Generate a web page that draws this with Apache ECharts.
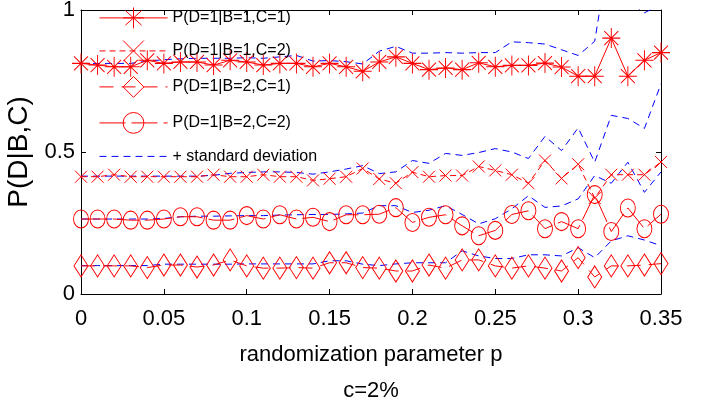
<!DOCTYPE html>
<html><head><meta charset="utf-8">
<script src="https://cdn.jsdelivr.net/npm/echarts@6/dist/echarts.min.js"></script>
<style>html,body{margin:0;padding:0;background:#fff}#c{width:702px;height:406px}</style>
</head><body><div id="c"></div>
<script>
const p = [0,0.01,0.02,0.03,0.04,0.05,0.06,0.07,0.08,0.09,0.10,0.11,0.12,0.13,0.14,0.15,0.16,0.17,0.18,0.19,0.20,0.21,0.22,0.23,0.24,0.25,0.26,0.27,0.28,0.29,0.30,0.31,0.32,0.33,0.34,0.35];
const xTicks = ['0','0.05','0.1','0.15','0.2','0.25','0.3','0.35'];
const yTicks = ['0','0.5','1'];
const names = ['P(D=1|B=1,C=1)','P(D=1|B=1,C=2)','P(D=1|B=2,C=1)','P(D=1|B=2,C=2)','+ standard deviation'];
// P(D=1|B=1,C=1)
const s11 = [0.812,0.806,0.800,0.800,0.823,0.812,0.817,0.817,0.806,0.823,0.817,0.806,0.812,0.812,0.800,0.812,0.800,0.784,0.817,0.835,0.812,0.790,0.796,0.790,0.814,0.800,0.805,0.805,0.813,0.799,0.767,0.767,0.901,0.767,0.823,0.850];
const up11 = [0.812,0.812,0.812,0.812,0.820,0.825,0.828,0.830,0.830,0.830,0.832,0.830,0.835,0.840,0.820,0.822,0.818,0.810,0.855,0.872,0.848,0.848,0.850,0.848,0.850,0.850,0.888,0.885,0.880,0.860,0.840,0.890,1.250,1.030,0.990,1.020];
// P(D=1|B=1,C=2)
const s12 = [0.413,0.413,0.420,0.413,0.413,0.413,0.413,0.413,0.420,0.413,0.413,0.420,0.413,0.413,0.400,0.406,0.413,0.442,0.405,0.390,0.429,0.413,0.417,0.417,0.449,0.435,0.420,0.390,0.470,0.407,0.457,0.338,0.420,0.420,0.420,0.465];
const up12 = [0.415,0.415,0.415,0.415,0.415,0.415,0.415,0.415,0.418,0.425,0.428,0.430,0.430,0.428,0.422,0.430,0.440,0.452,0.424,0.430,0.470,0.460,0.495,0.488,0.498,0.512,0.500,0.477,0.555,0.505,0.585,0.464,0.629,0.618,0.583,0.740];
// P(D=1|B=2,C=1)
const s21 = [0.099,0.099,0.099,0.099,0.093,0.102,0.102,0.095,0.102,0.120,0.099,0.091,0.091,0.093,0.091,0.110,0.110,0.093,0.091,0.081,0.081,0.102,0.091,0.120,0.120,0.099,0.091,0.099,0.091,0.081,0.128,0.060,0.099,0.099,0.102,0.107];
const up21 = [0.100,0.100,0.100,0.100,0.100,0.105,0.105,0.105,0.105,0.105,0.106,0.106,0.106,0.106,0.106,0.117,0.117,0.105,0.100,0.106,0.110,0.110,0.110,0.152,0.134,0.125,0.125,0.138,0.138,0.134,0.163,0.128,0.187,0.205,0.190,0.170];
// P(D=1|B=2,C=2)
const s22 = [0.264,0.264,0.264,0.260,0.260,0.264,0.272,0.272,0.260,0.260,0.276,0.264,0.279,0.264,0.270,0.255,0.279,0.279,0.281,0.304,0.252,0.270,0.279,0.240,0.205,0.224,0.280,0.293,0.230,0.255,0.230,0.350,0.220,0.303,0.230,0.281];
const up22 = [0.264,0.264,0.264,0.264,0.264,0.266,0.272,0.274,0.274,0.275,0.276,0.276,0.278,0.279,0.280,0.280,0.282,0.285,0.311,0.311,0.287,0.295,0.311,0.280,0.247,0.265,0.300,0.346,0.305,0.310,0.335,0.417,0.390,0.464,0.358,0.430];

const FONT = '"Liberation Sans", Arial, sans-serif';
const RED = '#ff0000', BLUE = '#0000ff';
const pair = arr => arr.map((v, i) => [p[i], v]);

const SYM_AST = 'path://M9 0L9 20M0 10L18 10M2 3L16 17M16 3L2 17';
const SYM_X = 'path://M0 0L12 12M12 0L0 12';
const SYM_DIA = 'path://M7 0L14 11L7 22L0 11Z';
const SYM_CIR = 'path://M0 9A7.5 9 0 1 1 15 9A7.5 9 0 1 1 0 9Z';

function redSeries(name, data, symbol, size, dash) {
  return {
    type: 'line', name: name, data: pair(data), symbol: symbol, symbolSize: size,
    showSymbol: true, symbolKeepAspect: false,
    itemStyle: { color: 'rgba(0,0,0,0)', borderColor: RED, borderWidth: 1 },
    lineStyle: { color: RED, width: 1, type: dash },
    emphasis: { disabled: true }, z: 3, animation: false
  };
}
function stdSeries(data) {
  return {
    type: 'line', name: names[4], data: pair(data), symbol: 'none', showSymbol: false,
    itemStyle: { color: 'rgba(0,0,0,0)', borderWidth: 0 },
    lineStyle: { color: BLUE, width: 1, type: [7, 5] },
    emphasis: { disabled: true }, z: 2, animation: false
  };
}
const labelFmt = (ticks, step) => (v) => ticks[Math.round(v / step)] || '';

const axisCommon = {
  axisLine: { show: true, onZero: false, lineStyle: { color: '#000', width: 1 } },
  axisTick: { show: true, inside: true, length: 5, lineStyle: { color: '#000', width: 1 } },
  splitLine: { show: false }
};

const legendRowTops = [7, 40, 76, 112, 146];
const legends = names.map((n, k) => ({
  orient: 'vertical', left: 99, top: legendRowTops[k], padding: 0,
  itemWidth: 68, itemHeight: 26,
  data: [k === 4 ? { name: n, itemStyle: { color: 'rgba(0,0,0,0)', borderWidth: 0, opacity: 0 } } : n],
  textStyle: { fontFamily: FONT, fontSize: 16, color: '#000' },
  lineStyle: { width: 1 },
  itemStyle: { borderWidth: 1 },
  selectedMode: false
}));

const chart = echarts.init(document.getElementById('c'), null, { renderer: 'canvas' });
chart.setOption({
  animation: false,
  backgroundColor: '#fff',
  grid: { left: 81, right: 41, top: 10, bottom: 112, containLabel: false, outerBoundsMode: 'none' },
  legend: legends,
  xAxis: [
    Object.assign({
      type: 'value', min: 0, max: 0.35, interval: 0.05, position: 'bottom',
      axisLabel: { color: '#000', fontFamily: FONT, fontSize: 22, margin: 14, formatter: labelFmt(xTicks, 0.05) },
      name: 'randomization parameter p', nameLocation: 'middle', nameGap: 50,
      nameTextStyle: { color: '#000', fontFamily: FONT, fontSize: 22 }
    }, axisCommon),
    Object.assign({
      type: 'value', min: 0, max: 0.35, interval: 0.05, position: 'top',
      axisLabel: { show: false }
    }, axisCommon)
  ],
  yAxis: [
    Object.assign({
      type: 'value', min: 0, max: 1, interval: 0.5, position: 'left',
      axisLabel: { color: '#000', fontFamily: FONT, fontSize: 22, margin: 6, formatter: labelFmt(yTicks, 0.5) },
      name: 'P(D|B,C)', nameLocation: 'middle', nameGap: 44, nameRotate: 90,
      nameTextStyle: { color: '#000', fontFamily: FONT, fontSize: 28 }
    }, axisCommon),
    Object.assign({
      type: 'value', min: 0, max: 1, interval: 0.5, position: 'right',
      axisLabel: { show: false }
    }, axisCommon)
  ],
  graphic: [{
    type: 'text', x: 371, y: 391,
    style: { text: 'c=2%', font: '22px ' + FONT, fill: '#000', align: 'center', verticalAlign: 'middle' }
  }],
  series: [
    stdSeries(up11), stdSeries(up12), stdSeries(up21), stdSeries(up22),
    redSeries(names[0], s11, SYM_AST, [18, 20], 'solid'),
    redSeries(names[1], s12, SYM_X, [12, 12], [6, 4]),
    redSeries(names[2], s21, SYM_DIA, [14, 22], [14, 8]),
    redSeries(names[3], s22, SYM_CIR, [15, 18], [26, 6])
  ]
});
</script>
</body></html>
